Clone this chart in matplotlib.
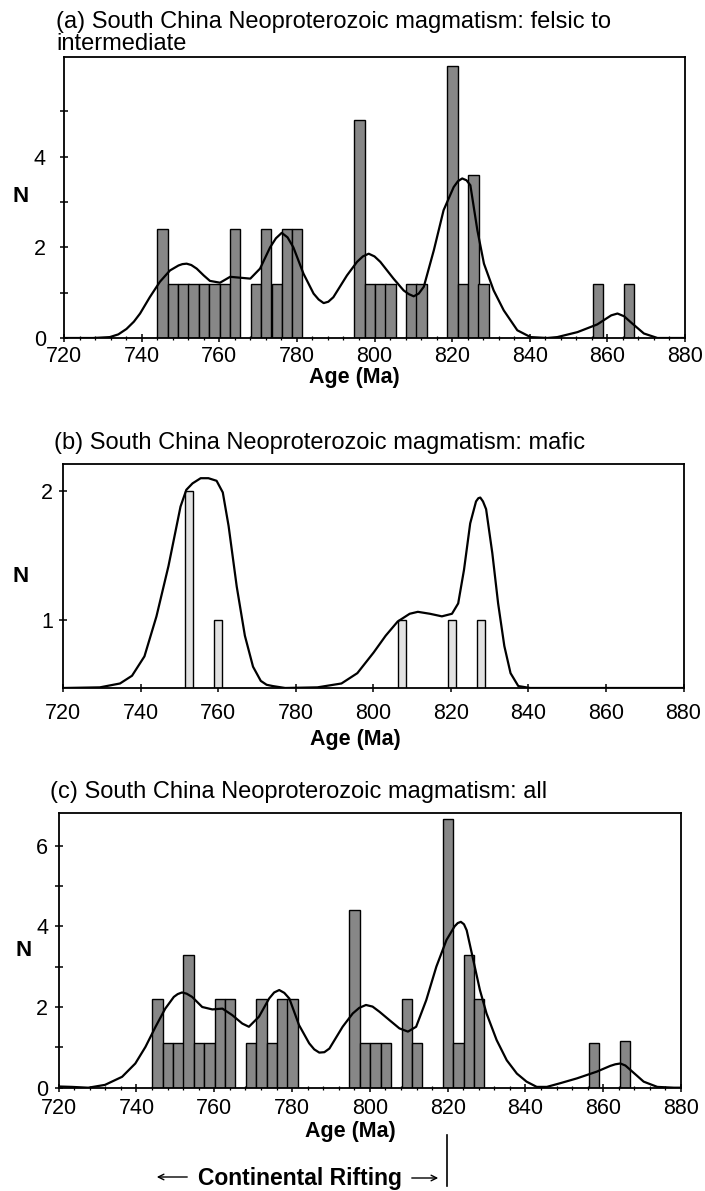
"""South China Neoproterozoic magmatism: age histograms with probability curves."""

import matplotlib
matplotlib.use("Agg")
import matplotlib.pyplot as plt
from matplotlib.ticker import MultipleLocator
from matplotlib.lines import Line2D
from matplotlib.patches import FancyArrowPatch

plt.rcParams['font.family'] = ['Liberation Sans', 'DejaVu Sans']

# Histogram bins (Ma) and heights
bar_age = [745.4, 748.1, 750.8, 753.4, 756.1, 758.8, 761.4, 764.1,
           769.5, 772.1, 774.8, 777.5, 780.1,
           796.1, 798.8, 801.5, 804.1, 809.5, 812.1,
           820.1, 822.8, 825.5, 828.1, 857.6, 865.6]
bar_width = 2.67

felsic_n = [2.4, 1.2, 1.2, 1.2, 1.2, 1.2, 1.2, 2.4,
            1.2, 2.4, 1.2, 2.4, 2.4,
            4.8, 1.2, 1.2, 1.2, 1.2, 1.2,
            6.0, 1.2, 3.6, 1.2, 1.2, 1.2]

all_n = [2.2, 1.1, 1.1, 3.3, 1.1, 1.1, 2.2, 2.2,
         1.1, 2.2, 1.1, 2.2, 2.2,
         4.4, 1.1, 1.1, 1.1, 2.2, 1.1,
         6.65, 1.1, 3.3, 2.2, 1.1, 1.15]

mafic_age = [752.6, 760.0, 807.5, 820.4, 827.8]
mafic_n = [2, 1, 1, 1, 1]
mafic_width = 2.1

# Probability curves
felsic_curve_age = [720, 724, 727.5, 731.8, 734.0, 736.1, 738.0, 739.6, 742.1, 744.7,
                    747.3, 749.5, 750.5, 751.6, 752.8, 754.2, 756.0, 757.6, 760.2, 762.8,
                    765.4, 768.0, 770.5, 773.1, 774.6, 776.1, 777.6, 779.1, 781.7, 784.3,
                    785.6, 786.9, 788.1, 789.4, 792.9, 795.5, 797.0, 798.5, 800.0, 801.5,
                    804.9, 807.5, 808.8, 810.1, 811.4, 812.7, 815.3, 817.8, 820.4, 821.5,
                    822.6, 823.7, 824.7, 826.5, 828.2, 830.7, 833.3, 836.8, 840.2, 844.5,
                    847.1, 852.3, 857.4, 861.0, 862.6, 864.3, 866.0, 869.4, 872.9, 876, 880]
felsic_curve_n = [0, 0, 0, 0.02, 0.08, 0.2, 0.36, 0.54, 0.9, 1.24,
                  1.49, 1.6, 1.63, 1.64, 1.61, 1.53, 1.38, 1.26, 1.22, 1.35,
                  1.33, 1.31, 1.53, 2.0, 2.2, 2.32, 2.22, 2.0, 1.42, 0.98,
                  0.85, 0.77, 0.8, 0.9, 1.38, 1.68, 1.8, 1.86, 1.8, 1.68,
                  1.31, 1.05, 0.97, 0.92, 0.98, 1.13, 1.94, 2.82, 3.33, 3.46,
                  3.52, 3.48, 3.37, 2.38, 1.64, 1.05, 0.61, 0.17, 0.02, 0,
                  0.02, 0.13, 0.3, 0.5, 0.54, 0.48, 0.35, 0.1, 0, 0, 0]

mafic_curve_age = [720, 729.5, 734.7, 737.8, 741.0, 744.1, 747.2, 750.3, 751.8, 753.4,
                   755.5, 757.5, 759.6, 761.2, 762.7, 764.8, 766.9, 769.0, 771.0, 772.5,
                   774.1, 777.3, 785.6, 791.8, 795.9, 800.1, 803.2, 806.3, 809.4, 811.5,
                   814.6, 817.7, 820.3, 821.9, 823.4, 825.0, 826.5, 827.1, 827.6, 828.3,
                   829.1, 830.7, 832.2, 833.8, 835.4, 837.4, 840.5, 880]
mafic_curve_n = [0.475, 0.48, 0.51, 0.57, 0.72, 1.03, 1.42, 1.88, 2.01, 2.06,
                 2.10, 2.10, 2.08, 1.99, 1.73, 1.26, 0.88, 0.64, 0.53, 0.50,
                 0.49, 0.475, 0.48, 0.51, 0.59, 0.75, 0.88, 0.99, 1.05, 1.065,
                 1.05, 1.03, 1.05, 1.13, 1.39, 1.75, 1.92, 1.945, 1.95, 1.92,
                 1.86, 1.52, 1.13, 0.80, 0.59, 0.49, 0.475, 0.475]

all_curve_age = [720, 723.4, 727.6, 731.9, 736.3, 739.7, 742.3, 744.9, 747.4, 749.6,
                 750.6, 751.7, 752.9, 754.3, 756.9, 759.5, 762.1, 764.6, 767.2, 768.9,
                 771.5, 774.1, 775.4, 776.7, 778.0, 779.3, 781.8, 784.4, 785.7, 787.0,
                 788.3, 789.6, 793.0, 795.6, 797.3, 799.0, 800.7, 802.5, 805.1, 807.6,
                 809.8, 811.9, 814.5, 817.1, 819.7, 821.8, 822.6, 823.4, 824.2, 824.9,
                 826.6, 828.3, 830.0, 832.6, 835.2, 837.8, 840.3, 842.9, 845.5, 848.9,
                 853.2, 858.4, 861.8, 863.1, 864.4, 865.7, 867.0, 870.4, 873.9, 878.2, 880]
all_curve_n = [0.03, 0.02, 0, 0.07, 0.27, 0.6, 1.01, 1.51, 1.96, 2.25,
               2.32, 2.36, 2.33, 2.25, 2.0, 1.94, 1.96, 1.8, 1.59, 1.51,
               1.76, 2.21, 2.36, 2.42, 2.35, 2.21, 1.55, 1.1, 0.95, 0.87,
               0.88, 0.97, 1.51, 1.84, 1.98, 2.05, 2.01, 1.88, 1.67, 1.47,
               1.39, 1.51, 2.17, 3.0, 3.66, 4.0, 4.08, 4.11, 4.05, 3.9,
               3.16, 2.42, 1.84, 1.18, 0.68, 0.35, 0.15, 0.02, 0.02, 0.11,
               0.23, 0.4, 0.54, 0.58, 0.6, 0.55, 0.44, 0.15, 0.02, 0, 0]

W, H = 705, 1191
fig = plt.figure(figsize=(W / 100, H / 100), dpi=100)


def rect(l, t, r, b):
    return [l / W, 1 - b / H, (r - l) / W, (b - t) / H]


def ftext(x, y, s, **kw):
    fig.text(x / W, 1 - y / H, s, **kw)


def panel(box, ages, heights, width, color, cx, cy, ylim, yticks, yminor,
          xpad, ypad, xminor=True):
    ax = fig.add_axes(rect(*box))
    ax.bar(ages, heights, width=width, color=color, edgecolor='black',
           linewidth=1.0, zorder=2)
    ax.plot(cx, cy, color='black', lw=1.6, zorder=3, solid_joinstyle='round')
    ax.set_xlim(720, 880)
    ax.set_ylim(*ylim)
    ax.set_xticks(range(720, 881, 20))
    if xminor:
        ax.xaxis.set_minor_locator(MultipleLocator(4))
    ax.set_yticks(yticks)
    ax.set_yticks(yminor, minor=True)
    ax.tick_params(which='major', direction='inout', length=6, width=1.1,
                   labelsize=15.5)
    ax.tick_params(axis='x', which='major', pad=xpad)
    ax.tick_params(axis='y', which='major', pad=ypad)
    ax.tick_params(axis='x', which='minor', direction='inout', length=3, width=0.9)
    ax.tick_params(axis='y', which='minor', direction='inout', length=6, width=1.1)
    for s in ax.spines.values():
        s.set_linewidth(1.3)
    return ax


# (a) felsic to intermediate
panel((64, 57, 685, 338), bar_age, felsic_n, bar_width, '#878787',
      felsic_curve_age, felsic_curve_n, (0, 6.2), [0, 2, 4], [1, 3, 5],
      xpad=2.5, ypad=10)
ftext(56, 28.3, "(a) South China Neoproterozoic magmatism: felsic to",
      fontsize=17, va='baseline')
ftext(56, 50.5, "intermediate", fontsize=17, va='baseline')
ftext(21, 197, "N", fontsize=16, fontweight='bold', ha='center', va='center')
ftext(354, 378, "Age (Ma)", fontsize=15.5, fontweight='bold', ha='center', va='center')

# (b) mafic
panel((63, 464, 683.5, 688), mafic_age, mafic_n, mafic_width, '#e2e2e2',
      mafic_curve_age, mafic_curve_n, (0.475, 2.21), [1, 2], [],
      xpad=7.5, ypad=4, xminor=False)
ftext(54, 449, "(b) South China Neoproterozoic magmatism: mafic",
      fontsize=17, va='baseline')
ftext(21, 576, "N", fontsize=16, fontweight='bold', ha='center', va='center')
ftext(355, 739, "Age (Ma)", fontsize=15.5, fontweight='bold', ha='center', va='center')

# (c) all
panel((58.7, 813.3, 681, 1087.7), bar_age, all_n, bar_width, '#878787',
      all_curve_age, all_curve_n, (0, 6.8), [0, 2, 4, 6], [1, 3, 5],
      xpad=4.7, ypad=4.5)
ftext(50, 798.3, "(c) South China Neoproterozoic magmatism: all",
      fontsize=17, va='baseline')
ftext(24, 950, "N", fontsize=16, fontweight='bold', ha='center', va='center')
ftext(350, 1131, "Age (Ma)", fontsize=15.5, fontweight='bold', ha='center', va='center')

# Continental rifting marker
fig.add_artist(Line2D([446.5 / W, 446.5 / W], [1 - 1135 / H, 1 - 1186 / H],
                      color='black', lw=1.2))
ftext(299.5, 1185, "Continental Rifting", fontsize=16.5, fontweight='bold',
      ha='center', va='baseline')
fig.add_artist(FancyArrowPatch((190 / W, 1 - 1177 / H), (154 / W, 1 - 1177 / H),
                               transform=fig.transFigure, arrowstyle='->',
                               mutation_scale=10, lw=1.0, color='black'))
fig.add_artist(FancyArrowPatch((409 / W, 1 - 1178 / H), (441 / W, 1 - 1178 / H),
                               transform=fig.transFigure, arrowstyle='->',
                               mutation_scale=10, lw=1.0, color='black'))

fig.savefig("out.png", dpi=100)
